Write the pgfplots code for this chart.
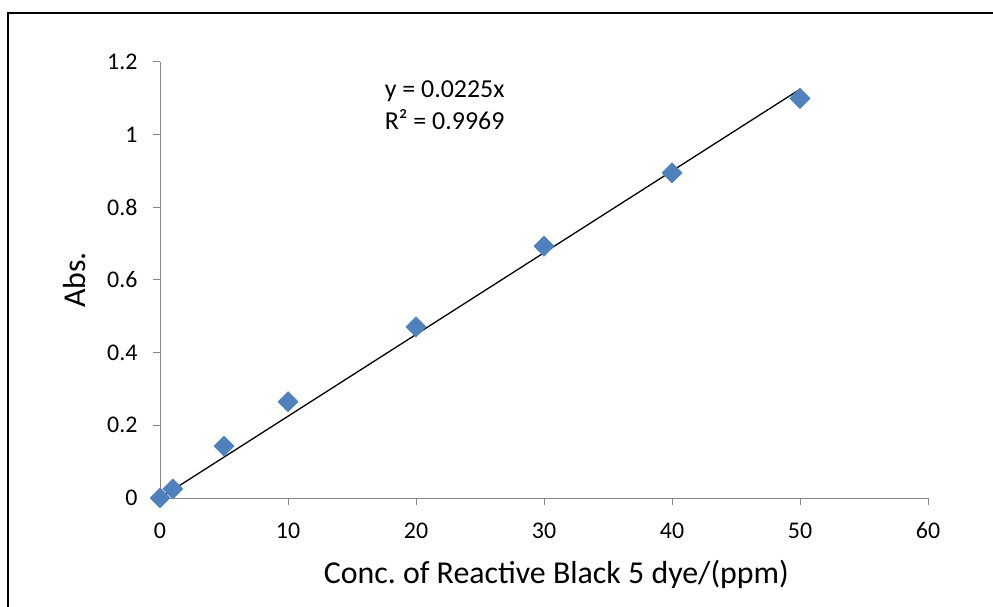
\documentclass[border=0pt]{standalone}
\usepackage{pgfplots}
\pgfplotsset{compat=1.18}
\usepackage{fontspec}
\setmainfont{Carlito}
\definecolor{markblue}{HTML}{4F81BD}
\definecolor{axgray}{HTML}{868686}
\begin{document}
\frenchspacing
\begin{tikzpicture}
\path[use as bounding box] (0,0) rectangle (993bp,607bp);
\draw[line width=2bp] (8bp,0) -- (8bp,594bp) -- (993bp,594bp);
\begin{axis}[
  at={(160bp,109bp)}, anchor=south west,
  scale only axis, width=768bp, height=436bp,
  xmin=0, xmax=60, ymin=0, ymax=1.2,
  axis lines*=left,
  axis line style={axgray, line width=1bp},
  xtick={0,10,...,60}, ytick={0,0.2,...,1.2},
  tick align=outside, major tick length=7bp,
  tick style={axgray, line width=1bp},
  clip=false,
  /pgf/number format/assume math mode=true,
  ticklabel style={font=\fontsize{24}{28}\selectfont},
  yticklabel style={/pgf/number format/fixed, /pgf/number format/precision=1, xshift=-12bp},
  xticklabel style={yshift=-14bp},
  xlabel={Conc. of Reactive Black 5 dye/(ppm)},
  ylabel={Abs.},
  label style={font=\fontsize{32}{36}\selectfont},
  xlabel style={at={(axis description cs:0.516,0)}, anchor=base, yshift=-85bp},
  ylabel style={at={(axis description cs:0,0.5)}, anchor=center, yshift=85bp},
]
\addplot[black, line width=1.3bp, no marks] coordinates {(0,0) (50,1.125)};
\addplot[only marks, mark=square*, mark size=7.2bp, mark options={rotate=45, fill=markblue, draw=markblue}] coordinates {
(0,0) (1,0.025) (5,0.143) (10,0.265) (20,0.471) (30,0.693) (40,0.895) (50,1.100)
};
\node[anchor=base west, font=\fontsize{26}{30}\selectfont, inner sep=0pt] at (axis cs:17.55,1.103) {y = 0.0225x};
\node[anchor=base west, font=\fontsize{26}{30}\selectfont, inner sep=0pt] at (axis cs:17.55,1.015) {R² = 0.9969};
\end{axis}
\end{tikzpicture}
\end{document}
